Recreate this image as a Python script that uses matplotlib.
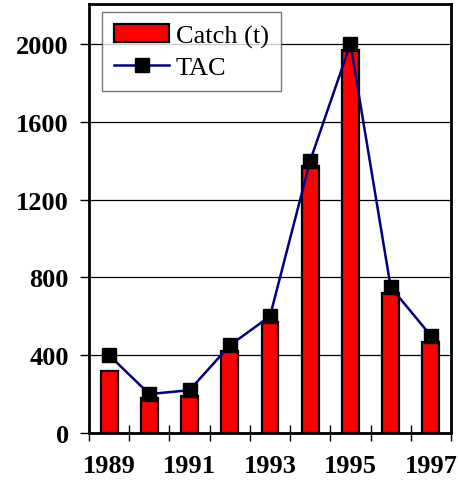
import matplotlib
matplotlib.use("Agg")
import matplotlib.pyplot as plt
import numpy as np

years = [1989, 1990, 1991, 1992, 1993, 1994, 1995, 1996, 1997]
catch_t = [320, 180, 190, 420, 570, 1370, 1970, 720, 470]
tac = [400, 200, 220, 450, 600, 1400, 2000, 750, 500]
yticks = [0, 400, 800, 1200, 1600, 2000]

plt.rcParams["font.family"] = ["Liberation Serif", "DejaVu Serif"]

fig = plt.figure(figsize=(4.58, 4.89), dpi=100)
ax = fig.add_axes([0.1943, 0.1125, 0.7904, 0.8773])

x = np.arange(len(years))
ax.set_axisbelow(True)
ax.yaxis.grid(True, color="black", linewidth=0.9)
bars = ax.bar(x, catch_t, width=0.42, color="#ff0000", edgecolor="black",
              linewidth=1.6, label="Catch (t)", zorder=2)
line, = ax.plot(x, tac, color="#000080", linewidth=1.8, marker="s", markersize=10.5,
                markerfacecolor="black", markeredgecolor="black", label="TAC",
                zorder=3)

ax.set_xlim(-0.5, len(years) - 0.5)
ax.set_ylim(0, 2205)

ax.set_yticks(yticks)
ax.set_yticklabels([str(v) for v in yticks], fontsize=19, fontweight="bold")
ax.tick_params(axis="y", direction="out", length=6.5, width=1, pad=8)

ax.set_xticks(np.arange(len(years) + 1) - 0.5)
ax.set_xticklabels([])
ax.tick_params(axis="x", which="major", direction="inout", length=11.5, width=1)
ax.set_xticks(x[::2], minor=True)
ax.set_xticklabels([str(y) for y in years[::2]], minor=True, fontsize=19,
                   fontweight="bold")
ax.tick_params(axis="x", which="minor", length=0, pad=15)

for s in ax.spines.values():
    s.set_linewidth(2)
    s.set_color("black")

leg = ax.legend([bars, line], ["Catch (t)", "TAC"], loc="upper left",
                bbox_to_anchor=(0.2227, 0.9734),
                bbox_transform=fig.transFigure, fontsize=19, frameon=True,
                fancybox=False, edgecolor="#555555", borderpad=0.45,
                handlelength=2.1, handleheight=0.67, labelspacing=0.3,
                handletextpad=0.25, borderaxespad=0)
leg.get_frame().set_linewidth(1)

fig.savefig("out.png", dpi=100)
